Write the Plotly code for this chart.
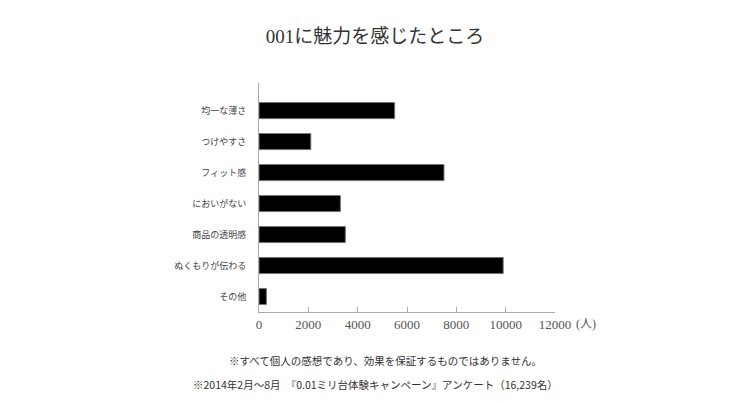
import plotly.graph_objects as go

categories = ["均一な薄さ", "つけやすさ", "フィット感", "においがない", "商品の透明感", "ぬくもりが伝わる", "その他"]
values = [5500, 2100, 7500, 3300, 3500, 9900, 300]
x_ticks = [0, 2000, 4000, 6000, 8000, 10000, 12000]
title_text = "001に魅力を感じたところ"
unit_text = "(人)"
note1 = "※すべて個人の感想であり、効果を保証するものではありません。"
note2 = "※2014年2月～8月　『0.01ミリ台体験キャンペーン』アンケート（16,239名）"

serif = "Liberation Serif, Noto Sans CJK JP, serif"
sans = "Noto Sans CJK JP, sans-serif"

W, H = 750, 401
l, r, t, b = 259, 195, 83, 89
pw, ph = W - l - r, H - t - b


def px_to_paper(px, py):
    return (px - l) / pw, (H - b - py) / ph


fig = go.Figure(go.Bar(
    x=values, y=categories, orientation="h",
    marker=dict(color="#000000", line=dict(color="#777777", width=1)),
    width=0.52,
))

n1x, n1y = px_to_paper(385, 360)
n2x, n2y = px_to_paper(375, 384)

fig.update_layout(
    width=W, height=H,
    margin=dict(l=l, r=r, t=t, b=b),
    paper_bgcolor="white", plot_bgcolor="white",
    showlegend=False,
    title=dict(text=title_text, x=0.5, xanchor="center", y=0.91, yanchor="middle",
               font=dict(family=serif, size=19, color="#333333")),
    xaxis=dict(range=[0, 12000], tickvals=x_ticks, ticktext=[str(v) for v in x_ticks],
               showgrid=False, zeroline=False, showline=True, linecolor="#aaaaaa", linewidth=1,
               ticks="inside", ticklen=5, tickcolor="#aaaaaa",
               tickfont=dict(family=serif, size=13, color="#555555")),
    yaxis=dict(categoryorder="array", categoryarray=categories, range=[6.5, -0.89],
               showgrid=False, zeroline=False, showline=True, linecolor="#aaaaaa", linewidth=1,
               ticks="", ticklabelstandoff=10,
               tickfont=dict(family=serif, size=9, color="#444444")),
    annotations=[
        dict(text=unit_text, x=12000, y=0, xref="x", yref="paper", xanchor="left", yanchor="top",
             xshift=19, yshift=-3, showarrow=False, font=dict(family=serif, size=12, color="#555555")),
        dict(text=note1, x=n1x, y=n1y, xref="paper", yref="paper", xanchor="center", yanchor="middle",
             showarrow=False, font=dict(family=sans, size=10.5, color="#333333")),
        dict(text=note2, x=n2x, y=n2y, xref="paper", yref="paper", xanchor="center", yanchor="middle",
             showarrow=False, font=dict(family=sans, size=10.5, color="#333333")),
    ],
)

fig.write_html("out.html", config={"displayModeBar": False},
               post_script="document.body.style.margin='0px';")
